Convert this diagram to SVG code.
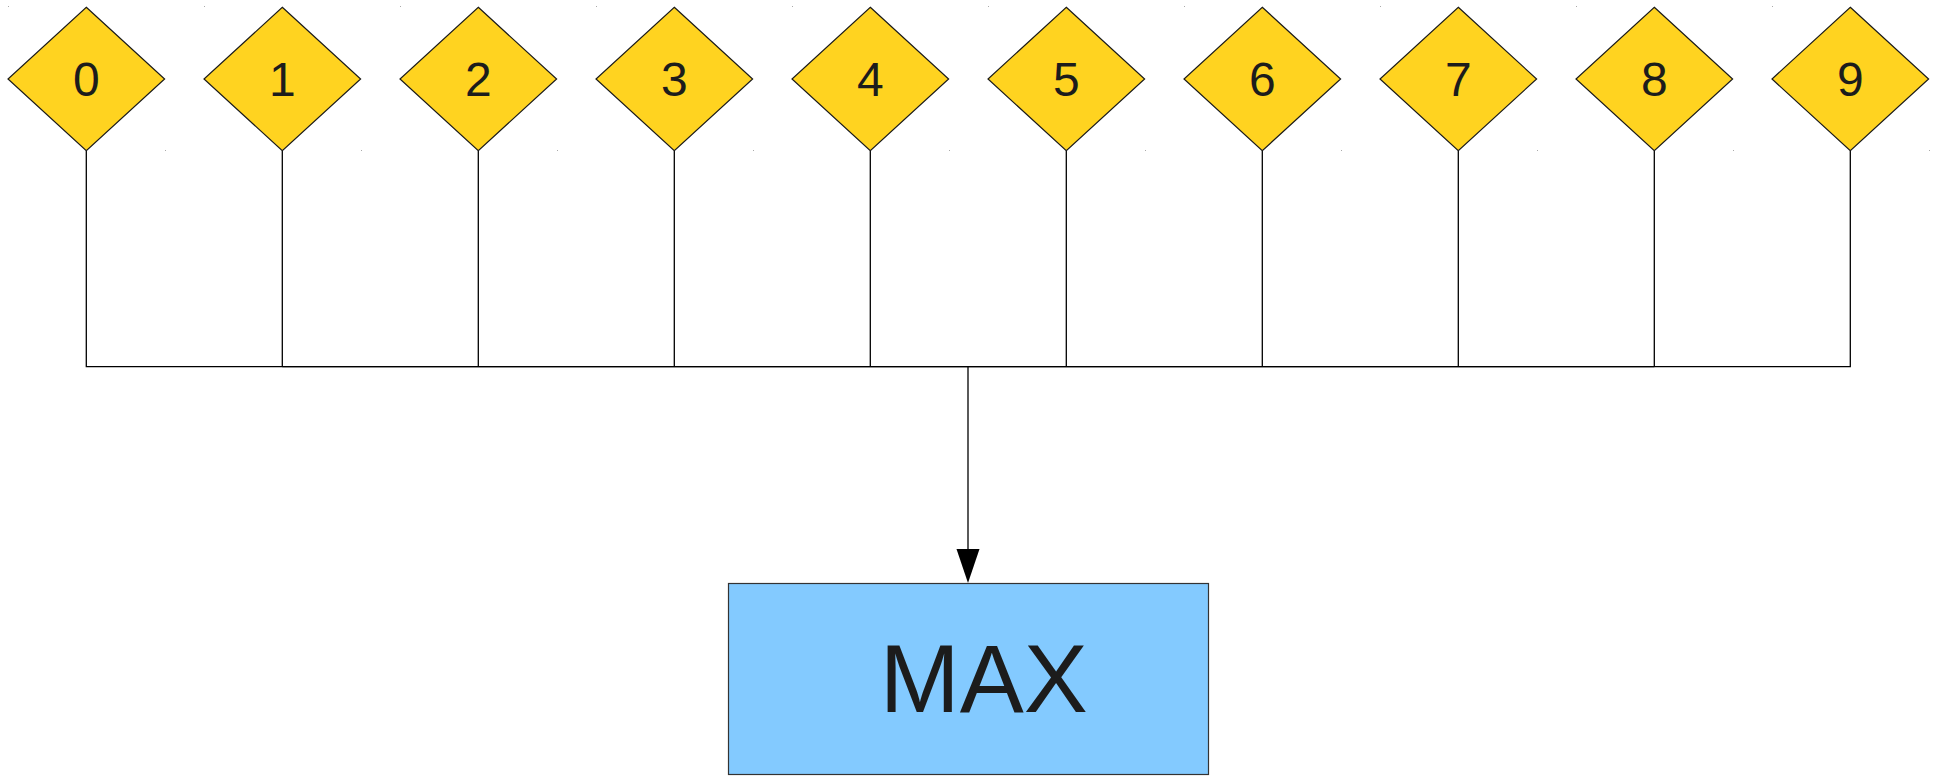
<svg xmlns="http://www.w3.org/2000/svg" width="1941" height="777" viewBox="0 0 1941 777">
<style>
.d{fill:#ffd320;stroke:#1a1a1a;stroke-width:1.2}
.dt{font-family:"Liberation Sans",Arial,sans-serif;font-size:48px;fill:#1c1c1c;text-anchor:middle}
.c{fill:none;stroke:#000;stroke-width:1.3}
.dot{fill:#aaa}
</style>
<rect width="1941" height="777" fill="#fff"/>
<g id="connectors">
<path class="c" d="M86.3,150.7V366.7H1850.3V150.7"/>
<path class="c" d="M282.3,150.7V366.7M478.3,150.7V366.7M674.3,150.7V366.7M870.3,150.7V366.7M1066.3,150.7V366.7M1262.3,150.7V366.7M1458.3,150.7V366.7M1654.3,150.7V366.7"/>
<path class="c" d="M282.3,366.7H1654.3" stroke-width="1.6"/>
<path class="c" d="M968,366.7V552" stroke-width="2"/>
<path d="M956.5,549L979.5,549L968,583Z" fill="#000"/>
</g>
<g id="marks">
<rect class="dot" x="8" y="6" width="1" height="1"/><rect class="dot" x="165" y="150" width="1" height="1"/>
<rect class="dot" x="204" y="6" width="1" height="1"/><rect class="dot" x="361" y="150" width="1" height="1"/>
<rect class="dot" x="400" y="6" width="1" height="1"/><rect class="dot" x="557" y="150" width="1" height="1"/>
<rect class="dot" x="596" y="6" width="1" height="1"/><rect class="dot" x="753" y="150" width="1" height="1"/>
<rect class="dot" x="792" y="6" width="1" height="1"/><rect class="dot" x="949" y="150" width="1" height="1"/>
<rect class="dot" x="988" y="6" width="1" height="1"/><rect class="dot" x="1145" y="150" width="1" height="1"/>
<rect class="dot" x="1184" y="6" width="1" height="1"/><rect class="dot" x="1341" y="150" width="1" height="1"/>
<rect class="dot" x="1380" y="6" width="1" height="1"/><rect class="dot" x="1537" y="150" width="1" height="1"/>
<rect class="dot" x="1576" y="6" width="1" height="1"/><rect class="dot" x="1733" y="150" width="1" height="1"/>
<rect class="dot" x="1772" y="6" width="1" height="1"/><rect class="dot" x="1929" y="150" width="1" height="1"/>
</g>
<g id="n0"><path class="d" d="M86.3,7.3L164.6,79L86.3,150.7L8,79Z"/><text class="dt" x="86.3" y="95.5">0</text></g>
<g id="n1"><path class="d" d="M282.3,7.3L360.6,79L282.3,150.7L204,79Z"/><text class="dt" x="282.3" y="95.5">1</text></g>
<g id="n2"><path class="d" d="M478.3,7.3L556.6,79L478.3,150.7L400,79Z"/><text class="dt" x="478.3" y="95.5">2</text></g>
<g id="n3"><path class="d" d="M674.3,7.3L752.6,79L674.3,150.7L596,79Z"/><text class="dt" x="674.3" y="95.5">3</text></g>
<g id="n4"><path class="d" d="M870.3,7.3L948.6,79L870.3,150.7L792,79Z"/><text class="dt" x="870.3" y="95.5">4</text></g>
<g id="n5"><path class="d" d="M1066.3,7.3L1144.6,79L1066.3,150.7L988,79Z"/><text class="dt" x="1066.3" y="95.5">5</text></g>
<g id="n6"><path class="d" d="M1262.3,7.3L1340.6,79L1262.3,150.7L1184,79Z"/><text class="dt" x="1262.3" y="95.5">6</text></g>
<g id="n7"><path class="d" d="M1458.3,7.3L1536.6,79L1458.3,150.7L1380,79Z"/><text class="dt" x="1458.3" y="95.5">7</text></g>
<g id="n8"><path class="d" d="M1654.3,7.3L1732.6,79L1654.3,150.7L1576,79Z"/><text class="dt" x="1654.3" y="95.5">8</text></g>
<g id="n9"><path class="d" d="M1850.3,7.3L1928.6,79L1850.3,150.7L1772,79Z"/><text class="dt" x="1850.3" y="95.5">9</text></g>
<g id="max">
<rect x="728.5" y="583.5" width="480" height="191" fill="#83caff" stroke="#333" stroke-width="1.2"/>
<text x="983.7" y="712" font-family="Liberation Sans,Arial,sans-serif" font-size="96" fill="#1c1c1c" text-anchor="middle">MAX</text>
</g>
</svg>
